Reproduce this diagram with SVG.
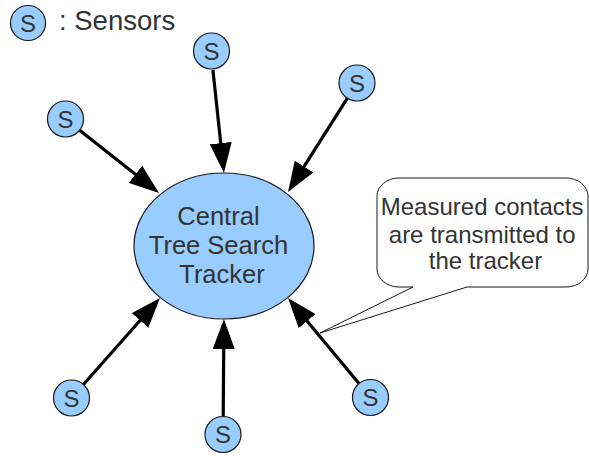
<svg xmlns="http://www.w3.org/2000/svg" width="589" height="456" viewBox="0 0 589 456">
  <style>
    .sensor circle { fill: #99ccff; stroke: #1a1a1a; stroke-width: 1.2; }
    .sensor text { font-family: "Liberation Sans", Arial, sans-serif; font-size: 24px; fill: #333333; text-anchor: middle; }
    .label { font-family: "Liberation Sans", Arial, sans-serif; fill: #333333; }
    .link { stroke: #000000; stroke-width: 3.2; fill: none; marker-end: url(#head); }
  </style>
  <defs>
    <marker id="head" markerUnits="userSpaceOnUse" viewBox="0 0 30 22" markerWidth="30" markerHeight="22" refX="22" refY="11" orient="auto">
      <path d="M0,0 L30,11 L0,22 Z" fill="#000000"/>
    </marker>
  </defs>

  <rect width="589" height="456" fill="#ffffff"/>

  <!-- legend -->
  <g id="legend">
    <g class="sensor">
      <circle cx="28" cy="23" r="17.5"/>
      <text x="28" y="31.5">S</text>
    </g>
    <text class="label" x="59" y="30" font-size="27.5">: Sensors</text>
  </g>

  <!-- sensor to tracker links -->
  <g id="connectors">
    <line class="link" x1="212.9" y1="69.9" x2="223.1" y2="165.0"/>
    <line class="link" x1="347.4" y1="98.2" x2="292.3" y2="185.2"/>
    <line class="link" x1="79.6" y1="130.2" x2="152.7" y2="188.0"/>
    <line class="link" x1="83.4" y1="384.5" x2="154.7" y2="304.0"/>
    <line class="link" x1="223.2" y1="416.5" x2="223.9" y2="327.0"/>
    <line class="link" x1="359.0" y1="383.6" x2="293.1" y2="304.2"/>
  </g>

  <!-- central tracker -->
  <g id="tracker">
    <ellipse cx="224" cy="246" rx="90" ry="73" fill="#99ccff" stroke="#1a1a1a" stroke-width="1.2"/>
    <text class="label" font-size="25.5" text-anchor="middle">
      <tspan x="222" y="225">Central</tspan>
      <tspan x="222" y="254">Tree Search</tspan>
      <tspan x="222" y="283">Tracker</tspan>
    </text>
  </g>

  <!-- sensors -->
  <g id="sensor-top" class="sensor">
    <circle cx="211.5" cy="51" r="18"/>
    <text x="211.5" y="59.5">S</text>
  </g>
  <g id="sensor-top-right" class="sensor">
    <circle cx="357" cy="83" r="18"/>
    <text x="357" y="91.5">S</text>
  </g>
  <g id="sensor-left" class="sensor">
    <circle cx="65.5" cy="119" r="18"/>
    <text x="65.5" y="127.5">S</text>
  </g>
  <g id="sensor-bottom-left" class="sensor">
    <circle cx="71.5" cy="398" r="18"/>
    <text x="71.5" y="406.5">S</text>
  </g>
  <g id="sensor-bottom" class="sensor">
    <circle cx="223" cy="434.5" r="18"/>
    <text x="223" y="443">S</text>
  </g>
  <g id="sensor-bottom-right" class="sensor">
    <circle cx="370.5" cy="397.5" r="18"/>
    <text x="370.5" y="406">S</text>
  </g>

  <!-- speech-bubble annotation -->
  <g id="callout">
    <path d="M399,178 H566 A22,18 0 0 1 588,196 V269 A22,18 0 0 1 566,287 H467 L320,333 L413,287 H399 A22,18 0 0 1 377,269 V196 A22,18 0 0 1 399,178 Z" fill="#ffffff" stroke="#1a1a1a" stroke-width="1"/>
    <text class="label" font-size="24" text-anchor="middle">
      <tspan x="485.5" y="215">Measured contacts</tspan>
      <tspan x="485.5" y="243">are transmitted to</tspan>
      <tspan x="485.5" y="269">the tracker</tspan>
    </text>
  </g>
</svg>
